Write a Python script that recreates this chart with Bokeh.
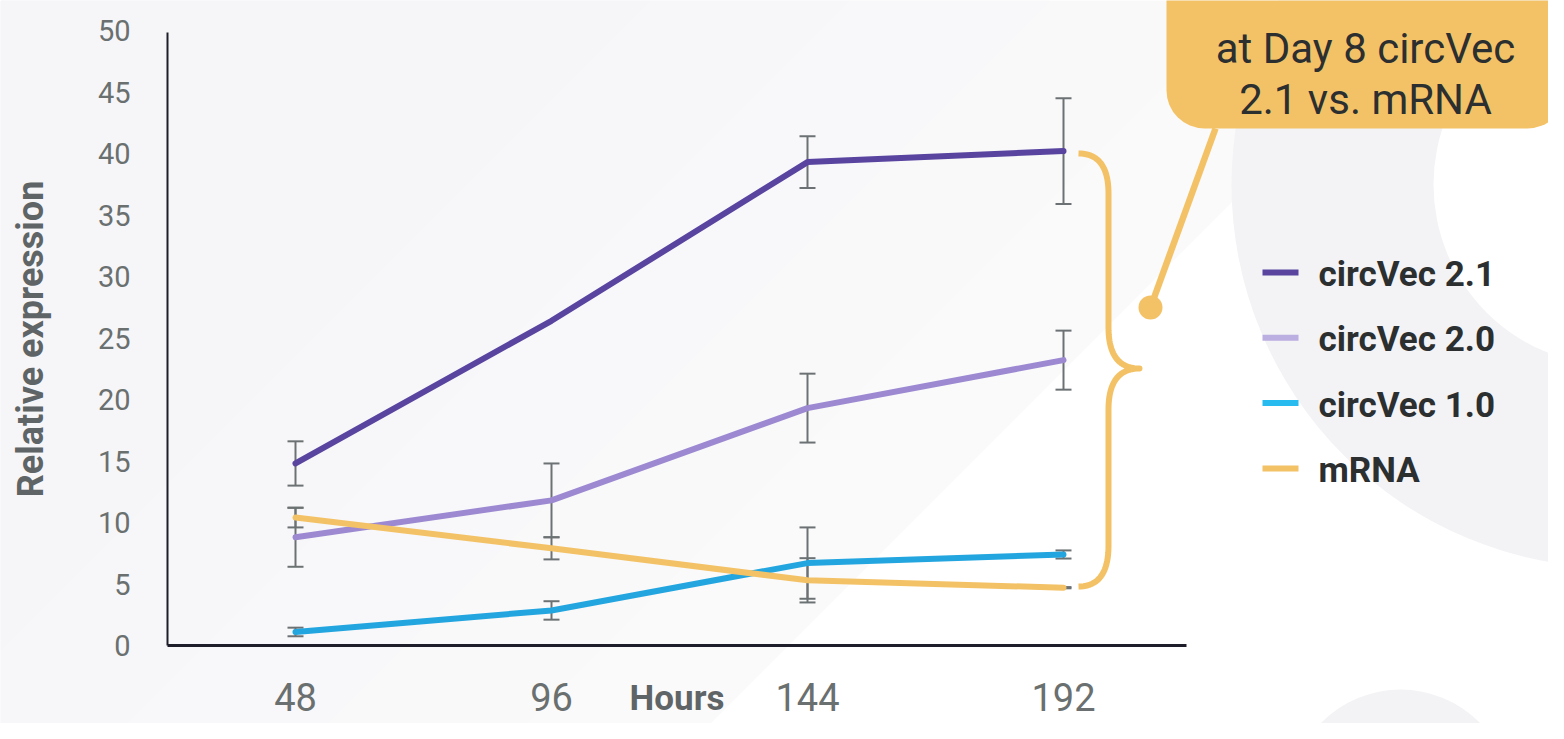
import numpy as np
from bokeh.plotting import figure
from bokeh.models import (LinearAxis, FixedTicker, Range1d, ColumnDataSource,
                          Whisker, TeeHead, BoxAnnotation)
from bokeh.core.properties import value
from bokeh.embed import file_html
from bokeh.resources import INLINE

# ---------------- data ----------------
hours = [48, 96, 144, 192]
series_names = ["circVec 2.1", "circVec 2.0", "circVec 1.0", "mRNA"]
circvec21 = [14.8, 26.4, 39.3, 40.2]
circvec21_err = [1.8, 0.0, 2.1, 4.3]
circvec20 = [8.8, 11.8, 19.3, 23.2]
circvec20_err = [2.4, 3.0, 2.8, 2.4]
circvec10 = [1.1, 2.85, 6.7, 7.4]
circvec10_err = [0.35, 0.75, 2.9, 0.33]
mrna = [10.4, 7.9, 5.3, 4.7]
mrna_err = [0.8, 0.9, 1.8, 0.05]
y_ticks = [0, 5, 10, 15, 20, 25, 30, 35, 40, 45, 50]
x_ticks = [48, 96, 144, 192]
callout_lines = ["at Day 8 circVec", "2.1 vs. mRNA"]
x_title = "Hours"
y_title = "Relative expression"

line_colors = ["#5944A0", "#9C89D1", "#23A6DF", "#F4C266"]
legend_colors = ["#5944A0", "#BBAEE0", "#28BBF0", "#F4C266"]
ORANGE = "#F4C266"
DARK = "#2C2F30"
GREY_TXT = "#6A6F6F"
ERR = "#6C7273"

# ---------------- layout (reference pixel space) ----------------
W, H = 1548, 723
OFF = 0
X48 = 295.0
PX_PER_HOUR = 256.0 / 48.0
Y0 = 645.0
PX_PER_UNIT = 12.3


def dx(X):
    return 48 + (np.asarray(X, dtype=float) - X48) / PX_PER_HOUR


def dy(Y):
    return (Y0 - np.asarray(Y, dtype=float)) / PX_PER_UNIT


p = figure(width=W, height=H, x_range=Range1d(float(dx(OFF)), float(dx(OFF + W))),
           y_range=Range1d(float(dy(OFF + H)), float(dy(OFF))),
           x_axis_type=None, y_axis_type=None, min_border=0,
           toolbar_location=None, output_backend="svg",
           background_fill_color="white", border_fill_color="white",
           outline_line_color=None)

# ---------------- background ----------------
band_T = [1433, 1250, 1050, 850, 650]
band_c = ["#FAFAFB", "#F9F9FA", "#F8F8FA", "#F7F7F9", "#F6F6F8"]
for T, c in zip(band_T, band_c):
    p.patch(dx([0, T, 0]), dy([0, 0, T]), fill_color=c, line_color=None, level="image")
p.scatter(dx([1614]), dy([184]), size=2 * 383, marker="circle",
          fill_color="#F3F3F6", line_color=None, level="image")
p.scatter(dx([1614]), dy([184]), size=2 * 181, marker="circle",
          fill_color="#FFFFFF", line_color=None, level="image")
p.scatter(dx([1400]), dy([800]), size=2 * 111, marker="circle",
          fill_color="#F3F3F6", line_color=None, level="image")

# ---------------- error bars ----------------
all_vals = [circvec21, circvec20, circvec10, mrna]
all_errs = [circvec21_err, circvec20_err, circvec10_err, mrna_err]
ex, eu, el = [], [], []
for vals, errs in zip(all_vals, all_errs):
    for h, v, e in zip(hours, vals, errs):
        if e > 0:
            ex.append(h); eu.append(v + e); el.append(v - e)
wsrc = ColumnDataSource(dict(x=ex, upper=eu, lower=el))
p.add_layout(Whisker(source=wsrc, base="x", upper="upper", lower="lower",
                     dimension="height", line_color=ERR, line_width=2, level="underlay",
                     upper_head=TeeHead(size=16, line_color=ERR, line_width=2),
                     lower_head=TeeHead(size=16, line_color=ERR, line_width=2)))

# ---------------- series lines ----------------
for vals, c in zip(all_vals, line_colors):
    p.line(hours, vals, line_color=c, line_width=6, line_cap="round", line_join="round")

# ---------------- axes ----------------
yaxis = LinearAxis(fixed_location=24, bounds=(0, 49.8), ticker=FixedTicker(ticks=y_ticks),
                   axis_line_color="#1E1E2A", axis_line_width=2,
                   major_tick_out=0, major_tick_in=0, minor_tick_out=0, minor_tick_in=0,
                   major_label_standoff=37, major_label_text_font="Roboto",
                   major_label_text_font_size="29px", major_label_text_color=GREY_TXT,
                   axis_label=y_title, axis_label_text_font="Roboto",
                   axis_label_text_font_style="bold", axis_label_text_font_size="36px",
                   axis_label_text_color="#5F6566", axis_label_standoff=43)
p.add_layout(yaxis, "left")
xaxis = LinearAxis(fixed_location=0, bounds=(24, 215), ticker=FixedTicker(ticks=x_ticks),
                   axis_line_color="#1E1E2A", axis_line_width=3,
                   major_tick_out=0, major_tick_in=0, minor_tick_out=0, minor_tick_in=0,
                   major_label_standoff=37, major_label_text_font="Roboto",
                   major_label_text_font_size="38px", major_label_text_color=GREY_TXT,
                   axis_label=x_title, axis_label_text_font="Roboto",
                   axis_label_text_font_style="bold", axis_label_text_font_size="35px",
                   axis_label_text_color="#5F6566", axis_label_standoff=-36)
p.add_layout(xaxis, "below")

# ---------------- brace ----------------
def qbez(a, c, b, n=24):
    t = np.linspace(0, 1, n)[:, None]
    a, c, b = map(np.asarray, (a, c, b))
    return (1 - t) ** 2 * a + 2 * (1 - t) * t * c + t ** 2 * b

BX0, BX1, BTIP = 1078, 1108, 1139
BTOP, BMID, BBOT = 153, 368, 586
path = np.vstack([
    qbez((BX0, BTOP), (BX1, BTOP), (BX1, BTOP + 40)),
    qbez((BX1, BMID - 41), (BX1, BMID), (BTIP, BMID)),
    qbez((BTIP, BMID), (BX1, BMID), (BX1, BMID + 41)),
    qbez((BX1, BBOT - 41), (BX1, BBOT), (BX0, BBOT)),
])
p.line(dx(path[:, 0]), dy(path[:, 1]), line_color=ORANGE, line_width=6, line_join="round")

# ---------------- callout ----------------
p.line(dx([1215, 1150]), dy([128, 307]), line_color=ORANGE, line_width=6.5)
p.scatter(dx([1150]), dy([307]), size=24, marker="circle", fill_color=ORANGE, line_color=None)
p.add_layout(BoxAnnotation(left=float(dx(1166)), right=float(dx(1565)),
                           top=float(dy(-60)), bottom=float(dy(128)),
                           border_radius=38, fill_color=ORANGE, fill_alpha=1.0,
                           line_color=None))
p.text(dx([1365, 1365]), dy([48, 99]), text=callout_lines, text_font=value("Roboto"),
       text_font_size="42px", text_color=DARK, text_align="center",
       text_baseline="alphabetic", level="overlay")

# ---------------- legend ----------------
leg_y = 272 + 65.3 * np.arange(len(series_names))
p.segment(x0=dx(np.full(4, 1262)), x1=dx(np.full(4, 1298)), y0=dy(leg_y), y1=dy(leg_y),
          line_color=legend_colors, line_width=6)
p.text(dx(np.full(4, 1318)), dy(leg_y + 2), text=series_names, text_font=value("Roboto"),
       text_font_style="bold", text_font_size="35px", text_color=DARK,
       text_align="left", text_baseline="middle")

open("out.html", "w").write(file_html(p, INLINE))
